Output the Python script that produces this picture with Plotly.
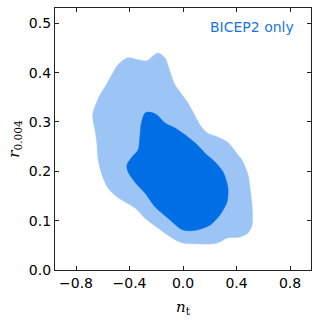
import plotly.graph_objects as go

# 95% contour boundary (n_t, r)
outer_nt = [-0.673, -0.621, -0.583, -0.531, -0.486, -0.411, -0.336, -0.269, -0.232, -0.187,
            -0.135, -0.097, -0.060, -0.022, 0.030, 0.075, 0.127, 0.179, 0.254, 0.329,
            0.374, 0.411, 0.441, 0.486, 0.501, 0.516, 0.516, 0.486, 0.426, 0.329,
            0.277, 0.224, 0.090, -0.007, -0.082, -0.187, -0.284, -0.359, -0.419, -0.493,
            -0.561, -0.606, -0.636, -0.643, -0.658, -0.673]
outer_r = [0.318, 0.355, 0.371, 0.396, 0.416, 0.430, 0.426, 0.424, 0.432, 0.440,
           0.430, 0.402, 0.375, 0.361, 0.341, 0.320, 0.294, 0.278, 0.270, 0.260,
           0.247, 0.233, 0.223, 0.193, 0.166, 0.132, 0.091, 0.075, 0.067, 0.065,
           0.057, 0.053, 0.053, 0.055, 0.065, 0.085, 0.105, 0.126, 0.136, 0.148,
           0.166, 0.193, 0.227, 0.254, 0.284, 0.304]

# 68% contour boundary (n_t, r)
inner_nt = [-0.247, -0.194, -0.135, -0.060, 0.015, 0.105, 0.179, 0.224, 0.299, 0.336,
            0.329, 0.277, 0.202, 0.105, 0.000, -0.112, -0.209, -0.284, -0.359, -0.411,
            -0.419, -0.381, -0.336, -0.321, -0.314, -0.284]
inner_r = [0.320, 0.314, 0.298, 0.288, 0.274, 0.254, 0.233, 0.223, 0.199, 0.166,
           0.138, 0.112, 0.091, 0.081, 0.081, 0.105, 0.128, 0.156, 0.178, 0.199,
           0.213, 0.229, 0.243, 0.274, 0.294, 0.318]

x_ticks = [-0.8, -0.4, 0.0, 0.4, 0.8]
y_ticks = [0.0, 0.1, 0.2, 0.3, 0.4, 0.5]

fig = go.Figure()
fig.add_trace(go.Scatter(x=outer_nt + outer_nt[:1], y=outer_r + outer_r[:1], mode="lines",
                         fill="toself", fillcolor="#9cc5f5",
                         line=dict(color="#9cc5f5", width=0.5, shape="spline", smoothing=0.8),
                         hoverinfo="skip", showlegend=False))
fig.add_trace(go.Scatter(x=inner_nt + inner_nt[:1], y=inner_r + inner_r[:1], mode="lines",
                         fill="toself", fillcolor="#006fe6",
                         line=dict(color="#006fe6", width=0.5, shape="spline", smoothing=0.8),
                         hoverinfo="skip", showlegend=False))

fig.add_annotation(text="BICEP2 only", xref="paper", yref="paper", x=0.94, y=0.927,
                   xanchor="right", yanchor="middle", showarrow=False,
                   font=dict(family="DejaVu Sans", size=14, color="#1a75e0"))

axis_common = dict(showline=True, linecolor="#222", linewidth=1.2, mirror="allticks",
                   ticks="inside", ticklen=4, tickwidth=1, tickcolor="#222",
                   showgrid=False, zeroline=False, automargin=False,
                   tickfont=dict(family="DejaVu Sans", size=14, color="black"))

fig.update_layout(
    width=319, height=323,
    margin=dict(l=55, r=8, t=8, b=53),
    paper_bgcolor="white", plot_bgcolor="white",
    xaxis=dict(range=[-0.957, 0.957], tickvals=x_ticks, tickformat=".1f",
               title=dict(text="<i>n</i><sub>t</sub>",
                          font=dict(family="DejaVu Serif", size=15, color="black"), standoff=11),
               **axis_common),
    yaxis=dict(range=[0, 0.531], tickvals=y_ticks, tickformat=".1f",
               title=dict(text="<i>r</i><sub>0.004</sub>",
                          font=dict(family="DejaVu Serif", size=15, color="black"), standoff=5),
               **axis_common),
)

fig.write_html("out.html", config={"displayModeBar": False},
               post_script="document.body.style.margin='0';")
